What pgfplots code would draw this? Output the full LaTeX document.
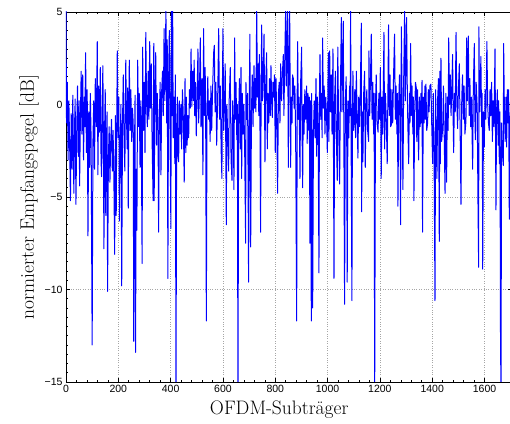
\documentclass[border=0pt]{standalone}
\usepackage{fontspec}
\usepackage{pgfplots}
\pgfplotsset{compat=1.18}
\newfontfamily\ticksf{Liberation Sans}
\begin{document}
\begin{tikzpicture}
\begin{axis}[name=ax, scale only axis, width=446pt, height=370pt,
 xmin=0, xmax=1705, ymin=-15, ymax=5,
 xtick={0,200,400,600,800,1000,1200,1400,1600},
 xticklabels={0,200,400,600,800,1000,1200,1400,1600},
 ytick={-15,-10,-5,0,5},
 yticklabels={−15,−10,−5,0,5},
 minor x tick num=4, minor y tick num=9,
 tick align=inside, major tick length=4pt, minor tick length=2pt,
 grid=major, grid style={dotted, gray!70, line width=0.6pt},
 axis line style={line width=0.8pt},
 tick style={black, line width=0.6pt},
 tick label style={font=\ticksf\fontsize{10.5}{12}\selectfont},
 label style={font=\fontsize{19.5}{23}\selectfont},
 xlabel={OFDM-Subträger}, ylabel={normierter Empfangspegel [dB]},
 xlabel style={at={(axis description cs:0.478,-0.0757)}, anchor=center},
 ylabel style={at={(axis description cs:-0.083,0.5)}, anchor=center},
]
\addplot[blue, line width=1.0pt, line join=round] table[row sep=\\] {
x y\\
0 5.2\\ 2 -1.0\\ 5 1.2\\ 8 -3.0\\ 11 0.2\\ 14 -2.2\\ 17 -5.2\\ 20 -0.5\\ 23 -3.5\\ 26 0.5\\
30 -4.8\\ 33 -1.0\\ 35 0.3\\ 38 -5.4\\ 41 -1.5\\ 44 1.0\\ 47 -2.8\\ 50 0.2\\ 52 -4.4\\ 55 -0.8\\
58 1.8\\ 61 -1.6\\ 64 1.6\\ 67 -3.0\\ 70 0.4\\ 72 -1.2\\ 75 2.8\\ 78 -2.6\\ 81 0.8\\ 84 -7.1\\
87 -0.4\\ 90 -3.4\\ 93 0.6\\ 96 -1.8\\ 100 -13.0\\ 103 -2.0\\ 106 0.2\\ 109 -3.5\\ 112 1.4\\ 116 -1.2\\
119.5 3.4\\ 122 -3.8\\ 125 1.0\\ 128 -1.5\\ 131 2.0\\ 134 -3.0\\ 136 -3.9\\ 139 0.5\\ 141 2.1\\ 143 -2.2\\
145 -7.8\\ 148 -1.0\\ 150 0.8\\ 152 -6.0\\ 155 -1.8\\ 157 -0.4\\ 159 -10.1\\ 162 -3.0\\ 165 -1.2\\ 168 -4.2\\
171 -2.0\\ 174 -0.8\\ 177 -3.6\\ 180 -1.4\\ 183 -4.0\\ 186 -8.1\\ 189 -0.6\\ 192 -6.0\\ 194 -1.0\\ 196 2.9\\
199 -1.8\\ 202 0.4\\ 204 -6.3\\ 207 -2.2\\ 210 0.0\\ 213 -9.8\\ 216 -1.0\\ 219 1.6\\ 222 -2.0\\ 225 -3.6\\
228.5 2.4\\ 231 -0.6\\ 234 -2.4\\ 236 0.9\\ 238 -5.6\\ 240 -0.8\\ 242 2.4\\ 245 -1.4\\ 248 0.8\\ 251 -2.0\\
254 -0.2\\ 257 -1.0\\ 259 -12.8\\ 262 -2.2\\ 264 0.5\\ 266 -13.4\\ 268 -3.5\\ 271 -6.8\\ 274 2.4\\ 277 -1.2\\
280 0.6\\ 283 -3.4\\ 286 0.2\\ 288 -2.0\\ 291 -8.6\\ 293 3.1\\ 296 -1.4\\ 299 1.2\\ 302 -2.6\\ 305 3.9\\
308 0.2\\ 311 -1.2\\ 314 1.8\\ 317 -0.8\\ 320 3.4\\ 323 -0.2\\ 326 2.2\\ 329 -1.8\\ 333 -5.2\\ 335.5 3.3\\
337 -5.2\\ 340 0.4\\ 343 2.8\\ 346 -2.2\\ 349 0.6\\ 352 -1.6\\ 354 -6.9\\ 357 -0.5\\ 360 1.2\\ 363 -3.8\\
366 0.8\\ 369 1.8\\ 372 -0.6\\ 375 4.1\\ 378 0.2\\ 382 5.2\\ 385 -1.0\\ 387 3.5\\ 389.5 -9.4\\ 392 1.0\\
395 4.0\\ 398 -2.2\\ 401 -6.7\\ 402.7 5.4\\ 405 -0.6\\ 407.7 5.4\\ 410 -1.8\\ 413 0.4\\ 416 -3.2\\ 418 1.6\\
420.5 -16\\ 423 -1.2\\ 426 0.4\\ 428 -2.8\\ 430.7 -3.1\\ 433 0.2\\ 436 -1.6\\ 439 0.0\\ 442 -2.4\\ 445 0.8\\
448 -0.4\\ 452 -4.2\\ 455 1.4\\ 456 -0.4\\ 458 -2.6\\ 460 0.4\\ 463 -2.2\\ 466 -0.6\\ 469 -1.8\\ 472 0.8\\
475 -0.2\\ 478 3.0\\ 481 -0.1\\ 484 1.8\\ 487 0.2\\ 490 2.4\\ 492 -0.6\\ 495 1.2\\ 498 -1.7\\ 501 0.4\\
504.5 3.0\\ 507 -1.0\\ 510 0.6\\ 513.5 3.6\\ 516 -1.2\\ 520 1.4\\ 523.5 -3.8\\ 526 4.1\\ 529 -0.6\\ 532 2.0\\
534 -0.8\\ 536.5 -11.7\\ 539 -0.6\\ 542 1.5\\ 545 -0.8\\ 548 0.2\\ 551 -2.0\\ 554 1.0\\ 557 -1.4\\ 560 0.6\\
564.5 2.8\\ 567 3.2\\ 570 -0.4\\ 573 1.2\\ 576 -2.2\\ 580 0.5\\ 583.7 4.1\\ 587 -0.8\\ 590 1.0\\ 593 -2.4\\
596 -4.0\\ 598 1.0\\ 600 4.1\\ 603 -1.4\\ 606 0.0\\ 608.6 2.2\\ 611 -2.6\\ 612.8 -6.5\\ 615 0.0\\ 618 -1.6\\
621.8 -3.6\\ 624 0.3\\ 628 2.0\\ 631 -3.0\\ 634.6 -4.1\\ 637 0.2\\ 640 -1.4\\ 642 -4.6\\ 644.7 3.6\\ 647 -0.8\\
650 1.2\\ 653 -1.9\\ 655 0.0\\ 657.4 -16\\ 660 -0.8\\ 663 1.4\\ 666.4 -2.4\\ 669 2.0\\
671.5 -4.0\\ 674 0.6\\ 677 -1.6\\ 680 0.0\\ 683 -2.4\\ 686.8 -7.5\\ 688 1.2\\ 691 -0.8\\ 694 0.6\\ 696 -3.8\\
698 -9.6\\ 701 0.8\\ 703 3.8\\ 706 -7.7\\ 709 -0.4\\ 712 1.6\\ 715 -1.2\\ 718.7 2.1\\ 721 -0.2\\ 723 1.4\\
726 -0.4\\ 729 5.2\\ 732 0.4\\ 735 2.2\\ 737 -0.6\\ 739 2.7\\ 742 -2.0\\ 744 -6.9\\ 746 1.0\\ 748 4.3\\
751 0.2\\ 754 1.6\\ 757 3.8\\ 760.7 -3.1\\ 763 0.8\\ 767 2.8\\ 769.6 -2.4\\ 772 0.6\\ 775 -1.0\\ 778 1.4\\
781 -0.6\\ 783.6 2.1\\ 786 0.2\\ 788.7 -0.7\\ 791 1.2\\ 794 0.4\\ 797 1.6\\ 800 -2.6\\ 802.8 1.4\\ 806 -1.0\\
809 -4.8\\ 812 0.6\\ 815 1.2\\ 818 -1.0\\ 820.6 2.2\\ 824 0.2\\ 827 1.6\\ 830.8 2.7\\ 833 -0.6\\ 836 2.2\\
839.7 5.2\\ 842 1.0\\ 845 3.2\\ 847 5.2\\ 850 -3.4\\ 852 2.4\\ 855 5.2\\ 858.8 -3.4\\ 861 0.4\\ 864 -1.0\\
866 1.6\\ 869 1.4\\ 872 -0.2\\ 875 1.0\\ 878 -1.8\\ 881.8 -11.7\\ 884 0.8\\ 885.6 3.4\\ 888 -0.8\\ 891 0.4\\
894.5 -4.0\\ 897 1.2\\ 900.9 3.1\\ 902 -0.6\\ 904.7 -4.5\\ 907 0.0\\ 910 -1.6\\ 913 0.8\\ 916 -0.8\\ 920 1.0\\
922 -2.1\\ 925 0.6\\ 928 -1.4\\ 930 0.4\\ 932.7 -7.5\\ 935 0.2\\ 937.8 -11.7\\ 939 0.6\\ 941 -2.2\\ 943 -11.0\\
946 -1.4\\ 949 0.2\\ 952 -1.8\\ 955.7 1.4\\ 958 -2.8\\ 961 0.4\\ 964 -1.4\\ 967 -9.1\\ 969 0.6\\ 971 2.7\\
974 -0.8\\ 977 0.6\\ 979 -1.8\\ 981 3.6\\ 984 -0.2\\ 987 1.0\\ 990 -1.6\\ 993 0.4\\ 996 -0.6\\ 999 -2.6\\
1001 0.8\\ 1003 2.8\\
1005 -2.0\\ 1008 2.9\\ 1011 -0.4\\ 1014 1.6\\ 1017 -1.6\\ 1020.6 3.0\\ 1022 -0.8\\ 1024.5 -9.4\\ 1027 0.4\\ 1030 1.8\\
1033 -1.4\\ 1037 -4.1\\ 1039 3.1\\ 1042 -0.8\\ 1046 -4.3\\ 1049 0.6\\ 1052.5 4.7\\ 1055 -0.4\\ 1057 1.8\\ 1060 4.5\\
1062 -1.0\\ 1065 -10.8\\ 1068 0.2\\ 1071 1.5\\ 1073 -1.2\\ 1075 -9.6\\ 1078 0.2\\ 1081 -1.8\\ 1084 1.0\\ 1086 -0.6\\
1088 5.2\\ 1090 -2.0\\ 1093 -10.6\\ 1095 -0.2\\ 1097 1.8\\ 1099 -1.4\\ 1101 -1.1\\ 1104 0.8\\ 1107 -1.8\\ 1110 1.8\\
1113 -0.8\\ 1116 -2.9\\ 1119 0.4\\ 1122 -1.2\\ 1125 0.6\\ 1129 4.4\\ 1130 -5.8\\ 1133 -0.4\\ 1135 -3.1\\ 1138 0.6\\
1141.7 1.8\\ 1144 -3.4\\ 1147 -0.2\\ 1150 0.8\\ 1153 -1.4\\ 1157 -2.0\\ 1158 2.9\\ 1161 -0.6\\ 1164 1.4\\ 1167 3.8\\
1170 -0.8\\ 1173 1.2\\ 1176 -1.6\\ 1178 0.6\\ 1180 -16\\ 1183 0.0\\ 1186 1.6\\ 1189 -1.0\\ 1193 -1.5\\ 1196 0.6\\
1199 -0.8\\ 1201.6 2.0\\ 1205 -4.0\\ 1208 0.4\\ 1211 -1.6\\ 1213 1.0\\ 1215.6 3.9\\ 1218 -2.4\\ 1221 0.6\\ 1224 -0.6\\
1228 -3.2\\ 1231 1.2\\ 1233 4.3\\ 1236 -0.6\\ 1239 1.6\\ 1241 -1.2\\ 1243.6 -1.1\\ 1246 0.8\\ 1249 -1.0\\ 1252 1.4\\
1256 3.8\\ 1259 -0.8\\ 1262 1.0\\ 1265 -1.6\\ 1267 0.6\\ 1269 -5.5\\ 1272 0.2\\ 1275 1.6\\ 1277 -0.8\\ 1279 -6.5\\
1282 4.2\\ 1285 0.2\\ 1288 -4.6\\ 1291 1.4\\ 1294.6 5.2\\ 1297 0.2\\ 1300 2.4\\ 1302 4.7\\ 1305 0.4\\ 1307 -1.2\\
1310 -3.2\\ 1313 0.6\\ 1315 -1.0\\ 1317.5 3.3\\ 1320 -0.6\\ 1323 1.0\\ 1326 -1.6\\ 1328 0.4\\ 1330 -5.2\\ 1333 -0.4\\
1336 1.2\\ 1339 0.9\\
1341 -2.0\\ 1344 0.8\\ 1348 -3.0\\ 1351 0.4\\ 1354 -1.2\\ 1357 0.6\\ 1359 -1.0\\ 1361 1.3\\ 1363 -6.9\\ 1366 0.4\\
1369 -1.0\\ 1372 1.0\\ 1374 -0.8\\ 1376 1.1\\ 1379 -1.4\\ 1382.5 -1.0\\ 1385 0.8\\ 1388 -0.4\\ 1391 1.0\\ 1395 1.1\\
1398 -1.0\\ 1401.6 -3.2\\ 1404 0.6\\ 1407 -2.4\\ 1410.6 -10.6\\ 1413 0.8\\ 1416 -2.2\\ 1418 -4.0\\ 1421 0.4\\ 1424 1.4\\
1427 -7.4\\ 1429 1.8\\ 1431 -3.2\\ 1433.5 2.5\\ 1436 -2.0\\ 1440 -1.3\\ 1443 1.0\\ 1446 -1.8\\ 1449 -4.8\\ 1452 0.6\\
1455 -4.2\\ 1458 0.4\\ 1461 -1.4\\ 1463 3.6\\ 1466 0.0\\ 1469 1.6\\ 1472 -0.6\\ 1475 1.0\\ 1478 2.7\\ 1480 -0.8\\
1482 -2.6\\ 1485 0.6\\ 1488 -0.4\\ 1491 3.9\\ 1494 0.2\\ 1497 -1.3\\ 1500 0.8\\ 1503.6 2.2\\ 1506 -0.6\\ 1510 -5.4\\
1513 0.4\\ 1516 1.6\\ 1519 -0.8\\ 1522 1.0\\ 1525 -1.6\\ 1529 -0.9\\ 1531.6 3.6\\ 1534 0.2\\ 1538 3.7\\ 1541 -0.6\\
1544 1.4\\ 1547 -1.2\\ 1550 0.4\\ 1554.6 -3.5\\ 1557 0.8\\ 1561 3.3\\ 1563 -0.6\\ 1565 -1.9\\ 1568 1.2\\ 1572 -0.2\\
1575 -5.4\\ 1577.5 -8.8\\ 1578.5 4.2\\ 1581 -0.4\\ 1584 1.0\\ 1586 2.6\\ 1589 -1.2\\ 1591 0.6\\ 1593 -8.9\\ 1596 -0.4\\
1599 -2.3\\ 1602 0.8\\ 1605 -0.8\\ 1609 3.4\\ 1612 0.0\\ 1615 -1.0\\ 1618 -1.4\\ 1621 0.8\\ 1624 -0.6\\ 1627 1.2\\
1630 -2.0\\ 1633 0.2\\ 1636 -1.2\\ 1640 3.0\\ 1643.7 -5.7\\ 1646 -0.4\\ 1649 0.8\\ 1652 -2.2\\ 1654 0.2\\ 1656.5 -3.2\\
1659 -0.4\\ 1661 -12.3\\ 1663 -16\\ 1665 -1.0\\ 1668 -2.6\\ 1671.7 -3.3\\ 1673 3.3\\ 1676 -0.4\\ 1679 -2.0\\ 1682 0.4\\
1684.5 -2.3\\ 1687 0.8\\ 1690 -1.0\\ 1692 0.8\\ 1694.7 -6.2\\ 1697 -1.2\\ 1700 0.6\\ 1703 -2.4\\ 1705 0.2\\
};
\end{axis}
\pgfresetboundingbox
\useasboundingbox ([shift={(-66pt,-42pt)}]ax.south west) rectangle ([shift={(444pt,12pt)}]ax.north west);
\end{tikzpicture}
\end{document}
